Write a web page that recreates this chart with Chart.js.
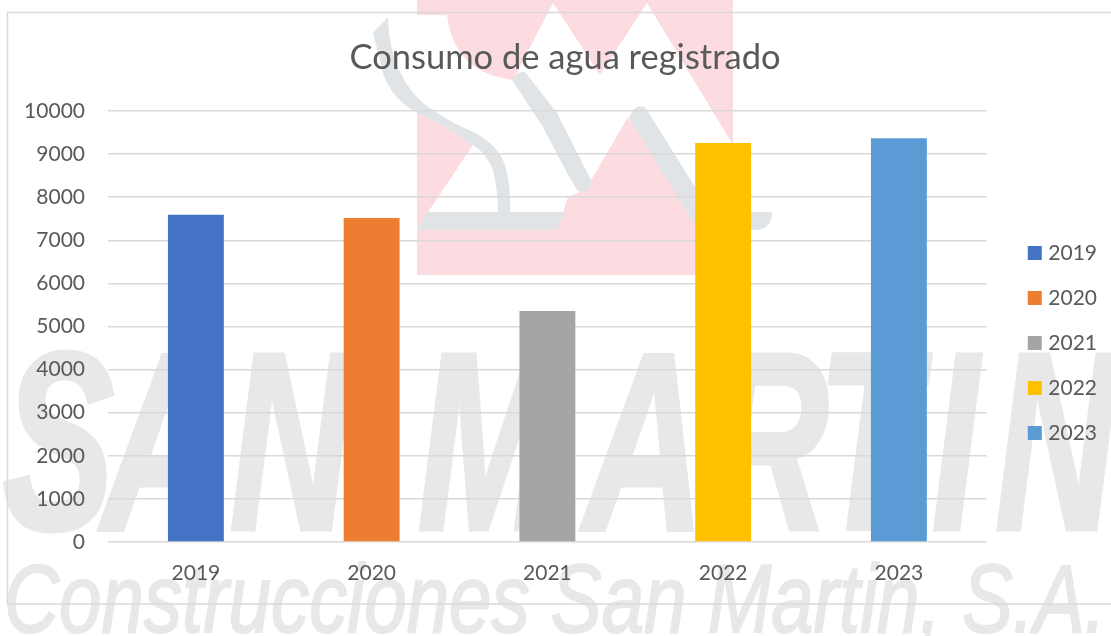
<!DOCTYPE html>
<html lang="es">
<head>
<meta charset="utf-8">
<title>Consumo de agua registrado</title>
<script src="https://cdn.jsdelivr.net/npm/chart.js@4"></script>
<style>
html,body{margin:0;padding:0;background:#fff;overflow:hidden}
#wrap{position:relative;width:1111px;height:636px}
#wm{position:absolute;left:0;top:0}
canvas{position:absolute;left:0;top:0}
</style>
</head>
<body>
<div id="wrap">
<svg id="wm" width="1111" height="636" viewBox="0 0 1111 636" aria-hidden="true">
  <rect x="417" y="0" width="316" height="275" fill="#fcdce1"/>
  <path d="M417,15 L447,15 Q452,55 480,70 Q495,78 513,80 L553,3 L600,75 L647,3 L733,145 L733,230 L705,230 L628,117 L593,177 L580,192 L568,197 L557,230 L417,230 Z" fill="#fff"/>
  <path d="M417,113 L447,128 L473,145 L428,212 L417,230 Z" fill="#fcdce1"/>
  <g fill="#e1e4e6">
    <path d="M388,17 Q389,50 400,72 Q410,92 423,103 Q445,120 473,132 Q494,142 503,160 Q511,180 510,212 L498,212 Q498,190 493,170 Q486,153 473,145 L447,128 L417,113 Q385,95 380,60 L373,33 Z"/>
    <path d="M518,73 Q522,72 525,72 L557,113 L592,182 Q590,192 580,192 L577,190 L567,173 L543,127 L512,80 Z"/>
    <path d="M629,118 Q634,103 645,107 L722,230 L698,230 Z"/>
    <path d="M427,212 L565,212 L557,230 L417,230 Z"/>
    <path d="M695,212 L772,212 Q772,230 755,230 L705,230 Z"/>
  </g>
  <g fill="#e6e8ea" stroke="#e6e8ea" font-family="Liberation Sans" font-style="italic">
    <text transform="scale(0.66,1)" x="4.5 155 348 800 633 885 1073 1239 1412 1508" y="529" font-weight="700" font-size="252" stroke-width="5">SAN MARTIN</text>
    <text x="4" y="632" font-size="96" stroke-width="2" textLength="1102" lengthAdjust="spacingAndGlyphs">Construcciones San Martin, S.A.</text>
  </g>
  <path d="M1111,12.5 H7.5 V604 H1111" fill="none" stroke="#d9d9d9" stroke-width="1.5"/>
</svg>
<canvas id="c" width="1111" height="636"></canvas>
</div>
<script>
const categories = ['2019', '2020', '2021', '2022', '2023'];
const values = [7590, 7520, 5360, 9260, 9370];
const colors = ['#4472c4', '#ed7d31', '#a5a5a5', '#ffc000', '#5b9bd5'];
const titleText = 'Consumo de agua registrado';
const fontFamily = 'Lato, "Open Sans", sans-serif';
const textColor = '#595959';

const layoutNudge = {
  id: 'layoutNudge',
  afterLayout(chart) {
    chart.legend.left += 21;
    chart.legend.right += 21;
    chart.legend.top += 25;
    chart.legend.bottom += 25;
    chart.titleBlock.left += 12.5;
    chart.titleBlock.right += 12.5;
  }
};

new Chart(document.getElementById('c'), {
  type: 'bar',
  data: {
    labels: categories,
    datasets: [{
      label: 'Consumo',
      data: values,
      backgroundColor: colors,
      borderWidth: 0,
      barPercentage: 0.318,
      categoryPercentage: 1
    }]
  },
  plugins: [layoutNudge],
  options: {
    responsive: false,
    animation: false,
    layout: { padding: { left: 19, right: 25, top: 0, bottom: 0 } },
    plugins: {
      title: {
        display: true,
        text: titleText,
        color: textColor,
        font: { family: fontFamily, size: 34.5, weight: 'normal' },
        padding: { top: 37, bottom: 32.6 }
      },
      legend: {
        display: true,
        position: 'right',
        onClick: null,
        labels: {
          boxWidth: 6,
          boxHeight: 6,
          padding: 24,
          color: textColor,
          font: { family: fontFamily, size: 21 },
          generateLabels: () => categories.map((c, i) => ({
            text: c, fillStyle: colors[i], strokeStyle: colors[i], lineWidth: 8, fontColor: textColor, index: i
          }))
        }
      },
      tooltip: { enabled: false }
    },
    scales: {
      x: {
        grid: { display: false },
        border: { display: false },
        ticks: { color: textColor, font: { family: fontFamily, size: 21 }, padding: 11, maxRotation: 0 },
        afterFit: s => { s.height = 94; }
      },
      y: {
        min: 0,
        max: 10000,
        grid: { color: '#d9d9d9', lineWidth: 1.5, drawTicks: false },
        border: { display: false },
        ticks: { stepSize: 1000, color: textColor, font: { family: fontFamily, size: 21 }, padding: 23, callback: v => String(v) },
        afterFit: s => { s.width = 89; }
      }
    }
  }
});
</script>
</body>
</html>
